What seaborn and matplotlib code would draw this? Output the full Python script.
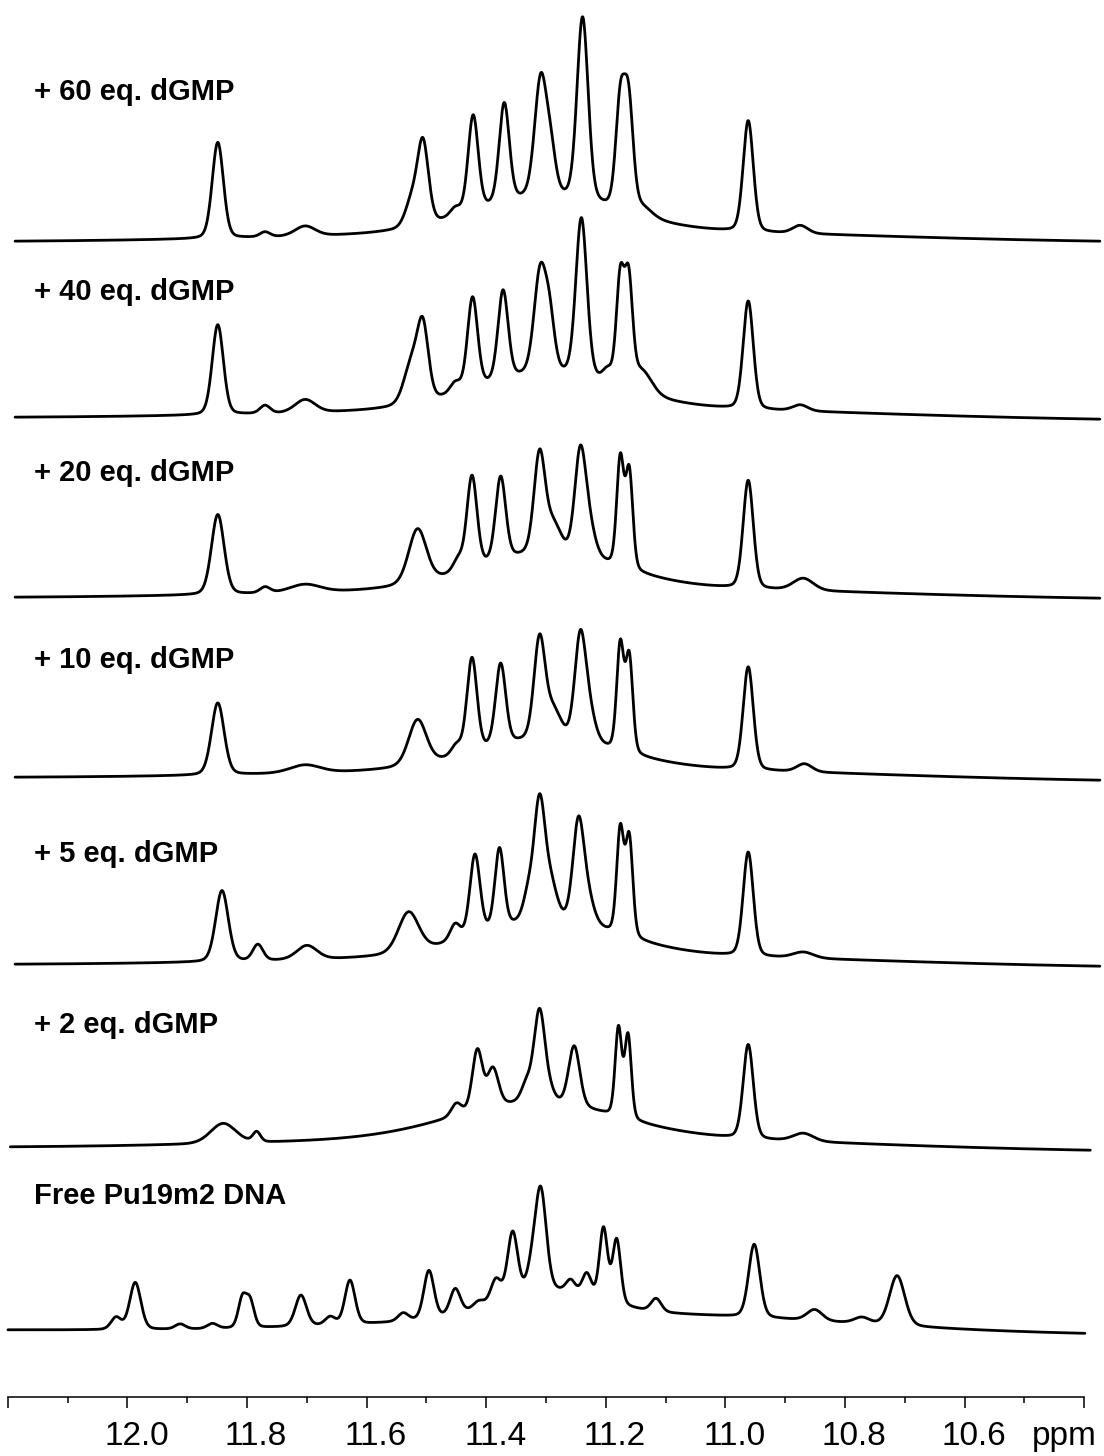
import numpy as np
import pandas as pd
import matplotlib
matplotlib.use("Agg")
import matplotlib.pyplot as plt
import matplotlib.transforms as mtransforms
from matplotlib.ticker import FixedLocator, FixedFormatter
import seaborn as sns

# ---------------------------------------------------------------------------
# Imino-proton region of 1H NMR spectra of Pu19m2 DNA titrated with dGMP.
# Each spectrum is described by its resonances: (shift / ppm, height, FWHM / ppm)
# ---------------------------------------------------------------------------
labels = ["+ 60 eq. dGMP", "+ 40 eq. dGMP", "+ 20 eq. dGMP", "+ 10 eq. dGMP",
          "+ 5 eq. dGMP", "+ 2 eq. dGMP", "Free Pu19m2 DNA"]

peaks_60 = [(11.849, 96, 0.022), (11.770, 5, 0.020), (11.703, 10, 0.040),
            (11.525, 25, 0.025), (11.506, 82, 0.022), (11.452, 8, 0.020),
            (11.422, 96, 0.020), (11.370, 99, 0.020), (11.309, 117, 0.024),
            (11.292, 38, 0.020), (11.239, 183, 0.022), (11.176, 104, 0.018),
            (11.162, 104, 0.018), (11.140, 9, 0.040), (10.962, 111, 0.020),
            (10.875, 8, 0.030)]
humps_60 = [(11.30, 33, 0.28), (11.20, 12, 1.0)]

peaks_40 = [(11.849, 90, 0.022), (11.770, 8, 0.020), (11.703, 13, 0.040),
            (11.525, 40, 0.030), (11.506, 71, 0.022), (11.452, 10, 0.020),
            (11.423, 91, 0.020), (11.372, 89, 0.020), (11.310, 100, 0.024),
            (11.294, 48, 0.020), (11.241, 159, 0.022), (11.197, 12, 0.020),
            (11.176, 105, 0.0155), (11.162, 101, 0.0155), (11.140, 22, 0.040),
            (10.962, 108, 0.020), (10.875, 6, 0.030)]
humps_40 = [(11.30, 33, 0.28), (11.20, 12, 1.0)]

peaks_20 = [(11.849, 80, 0.025), (11.770, 6, 0.020), (11.703, 8, 0.060),
            (11.515, 54, 0.035), (11.447, 12, 0.020), (11.424, 92, 0.020),
            (11.376, 83, 0.020), (11.311, 98, 0.022), (11.288, 28, 0.030),
            (11.243, 100, 0.022), (11.228, 28, 0.025), (11.176, 107, 0.014),
            (11.161, 97, 0.014), (10.962, 108, 0.020), (10.870, 12, 0.040)]
humps_20 = [(11.30, 33, 0.28), (11.20, 12, 1.0)]

peaks_10 = [(11.849, 72, 0.025), (11.703, 8, 0.060), (11.515, 45, 0.035),
            (11.450, 10, 0.020), (11.424, 94, 0.020), (11.376, 81, 0.020),
            (11.311, 99, 0.022), (11.288, 28, 0.030), (11.243, 101, 0.022),
            (11.228, 28, 0.025), (11.176, 105, 0.014), (11.161, 95, 0.014),
            (10.962, 103, 0.020), (10.868, 8, 0.030)]
humps_10 = [(11.30, 28, 0.28), (11.20, 12, 1.0)]

peaks_5 = [(11.842, 71, 0.025), (11.782, 16, 0.020), (11.700, 14, 0.040),
           (11.530, 40, 0.040), (11.452, 16, 0.020), (11.419, 80, 0.020),
           (11.378, 79, 0.018), (11.330, 24, 0.020), (11.311, 117, 0.022),
           (11.292, 33, 0.025), (11.246, 99, 0.022), (11.230, 24, 0.025),
           (11.176, 104, 0.014), (11.161, 98, 0.014), (10.962, 104, 0.020),
           (10.870, 6, 0.040)]
humps_5 = [(11.30, 33, 0.28), (11.20, 12, 1.0)]

peaks_2 = [(11.840, 20, 0.050), (11.784, 10, 0.015), (11.450, 12, 0.020),
           (11.415, 60, 0.020), (11.389, 38, 0.022), (11.333, 17, 0.020),
           (11.311, 92, 0.022), (11.293, 8, 0.020), (11.253, 60, 0.022),
           (11.179, 88, 0.013), (11.163, 83, 0.013), (10.962, 94, 0.020),
           (10.870, 8, 0.040)]
humps_2 = [(11.32, 33, 0.32), (11.25, 14, 1.0)]

peaks_free = [(12.019, 12, 0.020), (11.987, 47, 0.022), (11.912, 5, 0.020),
              (11.858, 5, 0.020), (11.808, 29, 0.016), (11.795, 26, 0.016),
              (11.710, 31, 0.022), (11.661, 8, 0.020), (11.628, 44, 0.020),
              (11.539, 8, 0.020), (11.496, 48, 0.020), (11.452, 25, 0.020),
              (11.413, 6, 0.020), (11.384, 22, 0.020), (11.356, 64, 0.020),
              (11.324, 19, 0.020), (11.309, 100, 0.022), (11.259, 12, 0.018),
              (11.232, 22, 0.018), (11.204, 72, 0.016), (11.182, 64, 0.016),
              (11.116, 13, 0.020), (10.952, 73, 0.022), (10.851, 11, 0.030),
              (10.772, 6, 0.030), (10.713, 50, 0.030)]
humps_free = [(11.30, 24, 0.20), (11.15, 19, 0.80)]

all_peaks = [peaks_60, peaks_40, peaks_20, peaks_10, peaks_5, peaks_2, peaks_free]
all_humps = [humps_60, humps_40, humps_20, humps_10, humps_5, humps_2, humps_free]

# recorded spectral window of each trace (ppm, left -> right)
windows = [(12.188, 10.374)] * 5 + [(12.196, 10.390), (12.200, 10.399)]

# x-axis ticks
major_ticks = [12.2, 12.0, 11.8, 11.6, 11.4, 11.2, 11.0, 10.8, 10.6, 10.4]
minor_ticks = [12.1, 11.9, 11.7, 11.5, 11.3, 11.1, 10.9, 10.7, 10.5]
tick_labels = ["", "12.0", "11.8", "11.6", "11.4", "11.2", "11.0", "10.8", "10.6", ""]

# ---------------------------------------------------------------------------
# layout (figure pixels)
W, H = 1104, 1456
baselines = [(242, 243), (418, 421), (598, 600), (778, 782),
             (965, 968), (1148, 1152), (1330, 1335)]
label_y = [92, 292, 473, 660, 854, 1025, 1196]
axis_y = 1396.5


def line_shape(x, center, height, fwhm, eta=0.2):
    """Pseudo-Voigt line."""
    d = (x - center) / fwhm
    gauss = np.exp(-4.0 * np.log(2.0) * d ** 2)
    lorentz = 1.0 / (1.0 + 4.0 * d ** 2)
    return height * ((1.0 - eta) * gauss + eta * lorentz)


def spectrum(x, peaks, humps):
    y = np.zeros_like(x)
    for c, h, w in peaks:
        y += line_shape(x, c, h, w)
    for c, h, w in humps:
        y += line_shape(x, c, h, w, eta=0.0)
    return y


sns.set_theme(style="white")
plt.rcParams["font.family"] = ["Liberation Sans", "DejaVu Sans"]

fig = plt.figure(figsize=(W / 100, H / 100), dpi=100)
ax = fig.add_axes([0, 0, 1, 1])

px_per_ppm = 598.0
x_left = 12.2 + 7.9 / px_per_ppm
x_right = x_left - W / px_per_ppm

for i, (pk, hp) in enumerate(zip(all_peaks, all_humps)):
    lo, hi = windows[i]
    ppm = np.linspace(lo, hi, 2600)
    b0, b1 = baselines[i]
    base = -(b0 + (b1 - b0) * (lo - ppm) / (lo - hi))
    df = pd.DataFrame({"ppm": ppm, "intensity": base + spectrum(ppm, pk, hp)})
    sns.lineplot(data=df, x="ppm", y="intensity", ax=ax, color="black",
                 linewidth=2.0, estimator=None, sort=False)
    fig.text(34 / W, 1 - label_y[i] / H, labels[i], fontsize=21,
             fontweight="bold", ha="left", va="center", color="black")

ax.set_xlim(x_left, x_right)
ax.set_ylim(-H, 0)
ax.set_xlabel("")
ax.set_ylabel("")
ax.set_yticks([])
ax.set_facecolor("white")

for side in ["top", "left", "right"]:
    ax.spines[side].set_visible(False)
ax.spines["bottom"].set_position(("data", -axis_y))
ax.spines["bottom"].set_bounds(10.4, 12.2)
ax.spines["bottom"].set_color("black")
ax.spines["bottom"].set_linewidth(1.1)

ax.xaxis.set_major_locator(FixedLocator(major_ticks))
ax.xaxis.set_major_formatter(FixedFormatter(tick_labels))
ax.xaxis.set_minor_locator(FixedLocator(minor_ticks))
ax.tick_params(axis="x", which="major", direction="out", length=8, width=1.1,
               color="black", labelsize=24, pad=9.5, labelcolor="black",
               bottom=True)
ax.tick_params(axis="x", which="minor", direction="out", length=4.3, width=1.1,
               color="black", bottom=True)

shift = mtransforms.ScaledTranslation(9 / 100, 0, fig.dpi_scale_trans)
for tick in ax.xaxis.get_major_ticks():
    tick.label1.set_transform(tick.label1.get_transform() + shift)

ax.annotate("ppm", xy=(10.4, -axis_y), xycoords="data",
            xytext=(-14.4, -17.5), textcoords="offset points",
            ha="center", va="top", fontsize=24, color="black")

fig.savefig("out.png", dpi=100, facecolor="white")
